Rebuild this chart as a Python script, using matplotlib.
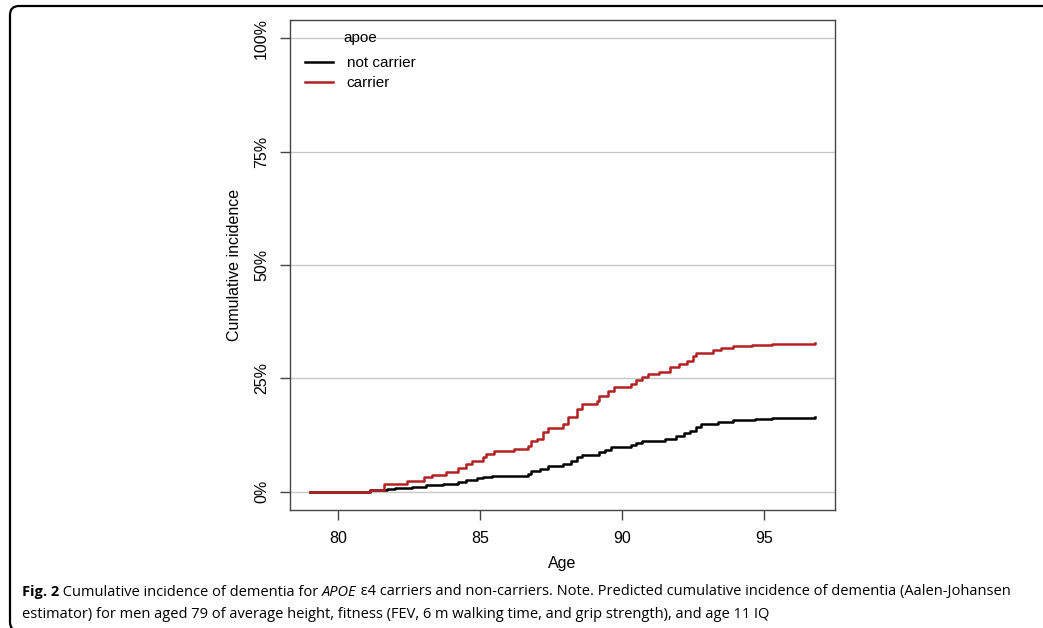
import matplotlib.pyplot as plt
from matplotlib.patches import FancyBboxPatch

# cumulative incidence (%), step changes at these ages
age_nc = [79.0, 81.1, 81.7, 82.0, 82.6, 83.1, 83.7, 84.2, 84.5, 84.9, 85.1, 85.4,
          86.7, 86.8, 87.1, 87.4, 87.9, 88.2, 88.4, 88.6, 89.2, 89.4, 89.6, 90.3,
          90.5, 90.7, 91.5, 91.9, 92.2, 92.4, 92.6, 92.8, 93.4, 93.9, 94.7, 95.3, 96.8]
inc_nc = [0.0, 0.3, 0.6, 0.8, 1.1, 1.5, 1.8, 2.2, 2.7, 3.0, 3.2, 3.5,
          3.9, 4.5, 5.0, 5.6, 6.1, 6.9, 7.6, 8.1, 8.7, 9.3, 9.8, 10.3,
          10.7, 11.1, 11.7, 12.4, 13.0, 13.5, 14.4, 15.0, 15.3, 15.9, 16.1, 16.3, 16.4]

age_c = [79.0, 81.1, 81.6, 82.4, 83.0, 83.3, 83.8, 84.2, 84.5, 84.7, 85.1, 85.2,
         85.5, 86.2, 86.7, 86.8, 87.0, 87.2, 87.4, 87.9, 88.1, 88.4, 88.6, 89.1,
         89.2, 89.5, 89.7, 90.3, 90.5, 90.7, 90.9, 91.3, 91.7, 92.0, 92.3, 92.5,
         92.6, 93.2, 93.5, 93.9, 94.6, 95.3, 96.8]
inc_c = [0.0, 0.4, 1.8, 2.4, 3.2, 3.7, 4.3, 5.2, 6.1, 6.9, 7.6, 8.3,
         8.9, 9.4, 10.0, 11.1, 11.7, 13.1, 14.0, 15.0, 16.4, 18.3, 19.4, 20.1,
         21.2, 22.3, 23.2, 23.8, 24.6, 25.4, 25.9, 26.5, 27.5, 28.1, 28.8, 29.9,
         30.7, 31.2, 31.6, 32.1, 32.3, 32.5, 32.7]

xticks = [80, 85, 90, 95]
yticks = [0, 25, 50, 75, 100]
ylabels = ["0%", "25%", "50%", "75%", "100%"]

plt.rcParams['font.family'] = ['Liberation Sans', 'DejaVu Sans']

W, H = 1043, 628
fig = plt.figure(figsize=(W / 100, H / 100), dpi=100)
ax = fig.add_axes([290 / W, 1 - 510 / H, 545 / W, 490 / H])

for y in yticks:
    ax.axhline(y, color='#c8c8c8', lw=1, zorder=1)

ax.step(age_nc, inc_nc, where='post', color='black', lw=1.8, label='not carrier', zorder=3)
ax.step(age_c, inc_c, where='post', color='#b22222', lw=1.8, label='carrier', zorder=3)

ax.set_xlim(78.29, 97.51)
ax.set_ylim(-4, 104)
ax.set_xticks(xticks)
ax.set_yticks(yticks)
ax.set_yticklabels(ylabels, rotation=90, va='center')
ax.tick_params(labelsize=11.5, length=7, width=1, color='#444444', pad=8)
for s in ax.spines.values():
    s.set_color('#444444')
    s.set_linewidth(1)

ax.set_xlabel('Age', fontsize=11.5, labelpad=7)
ax.set_ylabel('Cumulative incidence', fontsize=11.5, labelpad=9)

leg = ax.legend(title='apoe', loc='upper left', bbox_to_anchor=(0.027, 0.978),
                frameon=False, fontsize=11, title_fontsize=11, borderpad=0,
                borderaxespad=0, handlelength=1.85, handletextpad=0.9,
                labelspacing=0.4)
leg._legend_box.sep = 8

# frame around the figure panel
frame = FancyBboxPatch((10, -3), 1100, 625, boxstyle='round,pad=0,rounding_size=9',
                       transform=None, fill=False, ec='black', lw=1.6)
fig.patches.append(frame)

# caption
cfont = ['Open Sans', 'DejaVu Sans']
cs = 10.5
t1 = fig.text(22 / W, 1 - 592 / H, 'Fig. 2', fontsize=cs, family=cfont,
              fontweight='bold', va='center')
t2 = ax.annotate(' Cumulative incidence of dementia for ', xy=(1, 0.5), xycoords=t1,
                 va='center', ha='left', fontsize=cs, family=cfont, annotation_clip=False)
t3 = ax.annotate('APOE', xy=(1, 0.5), xycoords=t2, va='center', ha='left',
                 fontsize=cs, family=cfont, style='italic', annotation_clip=False)
ax.annotate(' \u03b54 carriers and non-carriers. Note. Predicted cumulative incidence '
            'of dementia (Aalen-Johansen', xy=(1, 0.5), xycoords=t3, va='center',
            ha='left', fontsize=cs, family=cfont, annotation_clip=False)
fig.text(22 / W, 1 - 615 / H, 'estimator) for men aged 79 of average height, fitness '
         '(FEV, 6 m walking time, and grip strength), and age 11 IQ',
         fontsize=cs, family=cfont, va='center')

fig.savefig('out.png', dpi=100)
